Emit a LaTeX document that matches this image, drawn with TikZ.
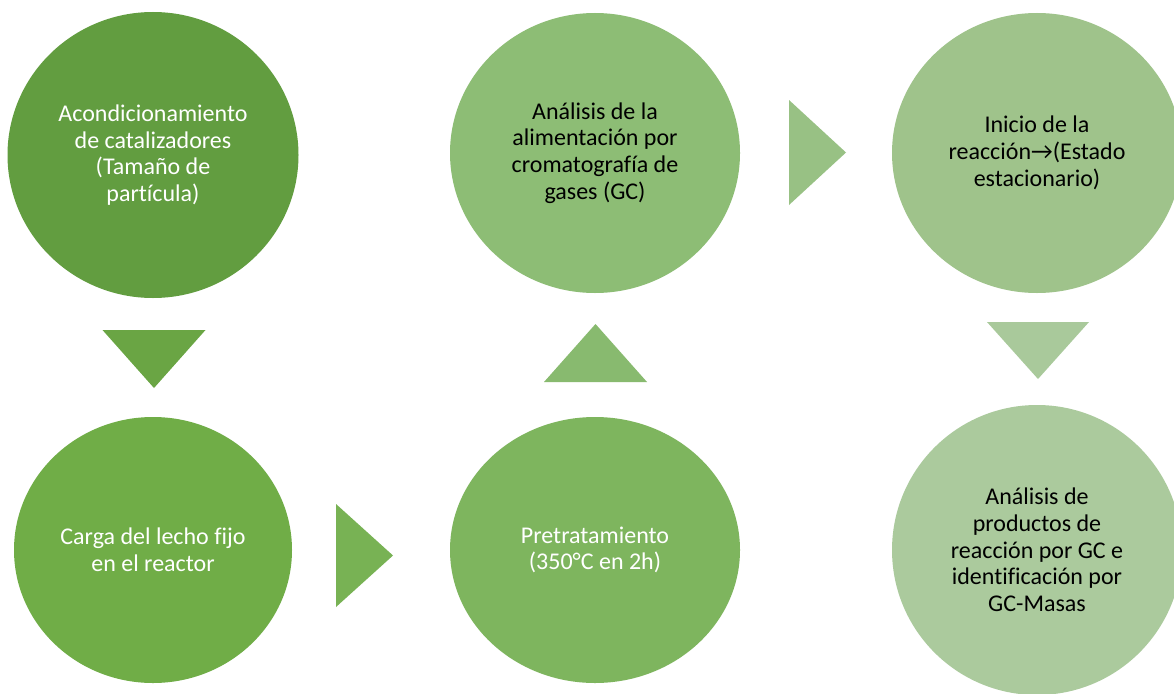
\documentclass[tikz,border=0pt]{standalone}
\usepackage{fontspec}
\setmainfont[Ligatures=NoCommon]{Carlito}
\usepackage{tikz}
\usetikzlibrary{shapes.geometric}
\definecolor{greenA}{HTML}{629D40}
\definecolor{greenB}{HTML}{70AD47}
\definecolor{greenC}{HTML}{8DBD75}
\definecolor{greenD}{HTML}{7EB55E}
\definecolor{greenE}{HTML}{9FC38B}
\definecolor{greenF}{HTML}{ABCA9D}
\definecolor{triA}{HTML}{6AA544}
\definecolor{triB}{HTML}{78B254}
\definecolor{triC}{HTML}{88BA6F}
\definecolor{triD}{HTML}{98C184}
\definecolor{triE}{HTML}{A9C99B}
\tikzset{
  stepcircle/.style={ellipse,draw=none,inner sep=0pt,align=center,font=\fontsize{24}{26.7}\selectfont},
  lighttext/.style={text=white},
  darktext/.style={text=black},
}

\begin{document}
\begin{tikzpicture}[x=1pt,y=-1pt]
        \clip (0,0) rectangle (1174,693);
        \fill[white] (0,0) rectangle (1174,693);
        \node[stepcircle,lighttext,fill=greenA,minimum width=291pt,minimum height=286pt] (c1) at (153,155) {Acondicionamiento\\de catalizadores\\(Tamaño de\\partícula)};
        \node[stepcircle,lighttext,fill=greenB,minimum width=278pt,minimum height=266pt] (c2) at (153,550) {Carga del lecho fijo\\en el reactor};
        \node[stepcircle,lighttext,fill=greenD,minimum width=290pt,minimum height=266pt] (c4) at (595,550) {Pretratamiento\\(350°C en 2h)};
        \node[stepcircle,darktext,fill=greenC,minimum width=290pt,minimum height=280pt] (c3) at (595,153) {Análisis de la\\alimentación por\\cromatografía de\\gases (GC)};
        \node[stepcircle,darktext,fill=greenE,minimum width=290pt,minimum height=280pt] (c5) at (1037,153) {Inicio de la\\reacción→(Estado\\estacionario)};
        \node[stepcircle,darktext,fill=greenF,minimum width=290pt,minimum height=290pt] (c6) at (1037,550) {Análisis de\\productos de\\reacción por GC e\\identificación por\\GC-Masas};
        \coordinate (a1) at (154,359);
        \coordinate (a2) at (364.5,555.5);
        \coordinate (a3) at (595.5,353);
        \coordinate (a4) at (817.5,152.5);
        \coordinate (a5) at (1038,350.5);
        \fill[triA] (a1) ++(-51.5,-29) -- ++(103,0) -- ++(-51.5,58) -- cycle;
        \fill[triB] (a2) ++(-28.5,-51.5) -- ++(57,51.5) -- ++(-57,51.5) -- cycle;
        \fill[triC] (a3) ++(-51.5,29) -- ++(103,0) -- ++(-51.5,-58) -- cycle;
        \fill[triD] (a4) ++(-28.5,-52.5) -- ++(57,52.5) -- ++(-57,52.5) -- cycle;
        \fill[triE] (a5) ++(-51,-28.5) -- ++(102,0) -- ++(-51,57) -- cycle;
      \end{tikzpicture}
\end{document}
